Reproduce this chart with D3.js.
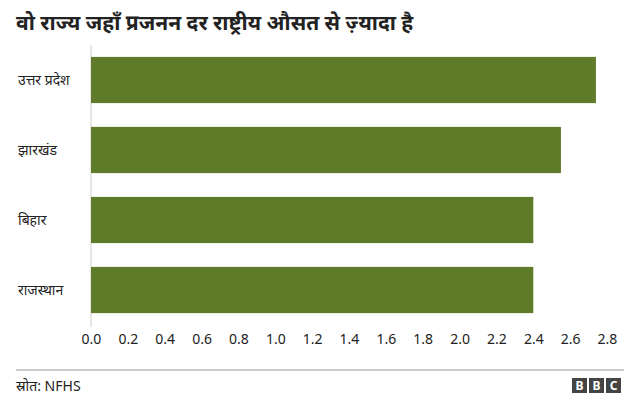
<!DOCTYPE html><html><head><meta charset="utf-8"><script src="https://cdn.jsdelivr.net/npm/d3@7"></script>
<style>body{margin:0;background:#fff}text{font-family:"Noto Sans",Arial,sans-serif}</style></head><body><svg id="c" width="640" height="414"></svg>
<script>
const categories=["उत्तर प्रदेश","झारखंड","बिहार","राजस्थान"];
const values=[2.74,2.55,2.40,2.40];
const ticks=[0,0.2,0.4,0.6,0.8,1.0,1.2,1.4,1.6,1.8,2.0,2.2,2.4,2.6,2.8];
const svg=d3.select("#c");
const x=d3.scaleLinear().domain([0,2.8]).range([91,607]);
const y=d3.scaleBand().domain(categories).range([45,325]).paddingInner(0.34).paddingOuter(0.17);
svg.append("text").attr("x",16).attr("y",30).attr("font-size",21).attr("font-weight","bold").attr("fill","#222").text("वो राज्य जहाँ प्रजनन दर राष्ट्रीय औसत से ज़्यादा है");
svg.append("line").attr("x1",91).attr("x2",91).attr("y1",45).attr("y2",327).attr("stroke","#ccc");
svg.selectAll("rect.b").data(values).join("rect").attr("class","b").attr("x",x(0)).attr("y",(d,i)=>y(categories[i])).attr("width",d=>x(d)-x(0)).attr("height",y.bandwidth()).attr("fill","#5f7a28");
svg.selectAll("text.c").data(categories).join("text").attr("class","c").attr("x",18).attr("y",d=>y(d)+y.bandwidth()/2+5).attr("font-size",14).attr("fill","#222").text(d=>d);
const ax=svg.append("g").attr("transform","translate(0,328)").call(d3.axisBottom(x).tickValues(ticks).tickFormat(d3.format(".1f")).tickSize(0).tickPadding(6));
ax.select(".domain").remove();
ax.selectAll("text").attr("font-size",14).attr("fill","#222").style("font-family","'Noto Sans',Arial,sans-serif");
svg.append("line").attr("x1",16).attr("x2",624).attr("y1",370).attr("y2",370).attr("stroke","#999");
svg.append("text").attr("x",16).attr("y",391).attr("font-size",14).attr("fill","#222").text("स्रोत: NFHS");
["B","B","C"].forEach((t,i)=>{const gx=572+i*17;svg.append("rect").attr("x",gx).attr("y",378).attr("width",15).attr("height",15).attr("fill","#444");svg.append("text").attr("x",gx+7.5).attr("y",390).attr("text-anchor","middle").attr("font-size",12).attr("font-weight","bold").attr("fill","#fff").text(t);});
</script></body></html>
